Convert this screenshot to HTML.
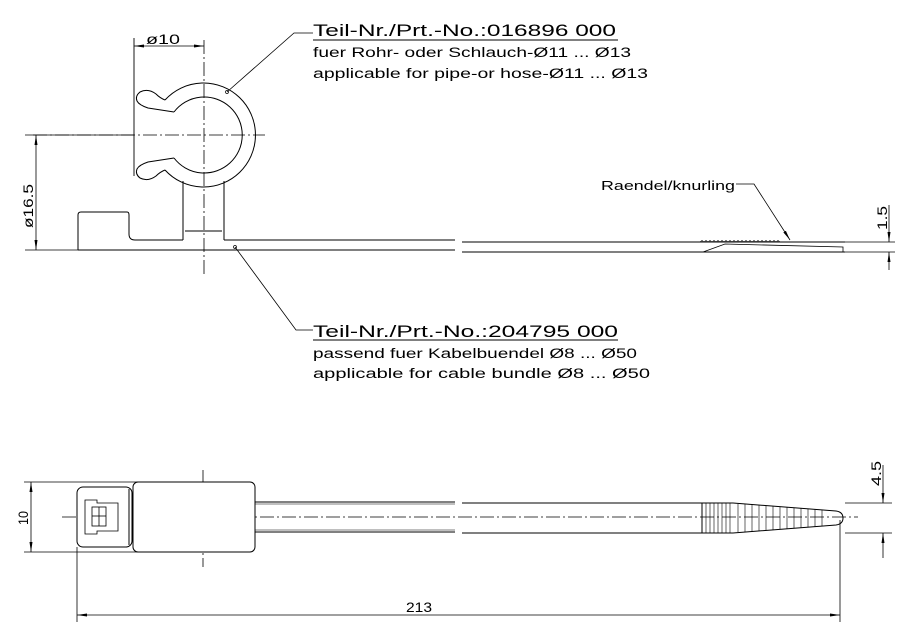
<!DOCTYPE html>
<html><head><meta charset="utf-8"><style>
html,body{margin:0;padding:0;background:#fff;}
svg{display:block;}
text{font-family:"Liberation Sans",sans-serif;fill:#000;}
</style></head><body>
<svg width="916" height="636" viewBox="0 0 916 636" xmlns="http://www.w3.org/2000/svg">
<defs>
<marker id="a" markerWidth="10" markerHeight="6" refX="10" refY="3" orient="auto-start-reverse" markerUnits="userSpaceOnUse"><path d="M0,1.5 L10,3 L0,4.5 Z" fill="#000"/></marker>
</defs>
<g stroke="#000" fill="none" stroke-width="1">
<line x1="33" y1="135" x2="265" y2="135" stroke-dasharray="14,3,2,3" stroke-width="0.8"/>
<line x1="204" y1="40" x2="204" y2="275" stroke-dasharray="14,3,2,3" stroke-width="0.8"/>
<line x1="134" y1="38" x2="134" y2="176" stroke-width="0.9"/>
<line x1="25" y1="135" x2="134" y2="135" stroke-width="0.8"/>
<line x1="25" y1="250" x2="78" y2="250" stroke-width="0.8"/>
<line x1="134" y1="46" x2="204" y2="46" marker-start="url(#a)" marker-end="url(#a)" stroke-width="0.8"/>
<line x1="36" y1="135" x2="36" y2="250" marker-start="url(#a)" marker-end="url(#a)" stroke-width="0.8"/>
<!-- clip ring -->
<path d="M165,100 A52,52 0 1 1 165,170"/>
<path d="M174,112 A38,38 0 1 1 174,158"/>
<path d="M165,100 Q160,98 156,94 Q148,88 140,92 Q135,96 137,101 Q139,105 148,108 L174,112"/>
<path d="M165,170 Q160,172 156,176 Q148,182 140,178 Q135,174 137,169 Q139,165 148,162 L174,158"/>
<!-- stem -->
<line x1="183" y1="181" x2="183" y2="240"/>
<line x1="224" y1="181" x2="224" y2="240"/>
<line x1="185" y1="231" x2="222" y2="231"/>
<path d="M78,250 L78,215 Q78,212 81,212 L127,212 Q129,212 129,215 L129,234 Q129,240 135,240 L183,240"/>
<line x1="224" y1="240" x2="455" y2="240"/>
<line x1="78" y1="250" x2="455" y2="250"/>
<line x1="462" y1="242" x2="845" y2="242"/>
<line x1="462" y1="252" x2="845" y2="252"/>
<path d="M703,252 L725,244 L843,247 L843,252" stroke-width="0.8"/>
<path d="M700,242 l2,-1.5 l2,1.5 l2,-1.5 l2,1.5 l2,-1.5 l2,1.5 l2,-1.5 l2,1.5 l2,-1.5 l2,1.5 l2,-1.5 l2,1.5 l2,-1.5 l2,1.5 l2,-1.5 l2,1.5 l2,-1.5 l2,1.5 l2,-1.5 l2,1.5 l2,-1.5 l2,1.5 l2,-1.5 l2,1.5 l2,-1.5 l2,1.5 l2,-1.5 l2,1.5 l2,-1.5 l2,1.5 l2,-1.5 l2,1.5 l2,-1.5 l2,1.5 l2,-1.5 l2,1.5 l2,-1.5 l2,1.5 l2,-1.5 l2,1.5" stroke-width="0.7"/>
<line x1="845" y1="242" x2="895" y2="242" stroke-width="0.8"/>
<line x1="845" y1="252" x2="895" y2="252" stroke-width="0.8"/>
<line x1="889" y1="205" x2="889" y2="242" marker-end="url(#a)" stroke-width="0.8"/>
<line x1="889" y1="270" x2="889" y2="252" marker-end="url(#a)" stroke-width="0.8"/>
<path d="M227,92 L294,33 L313,33" stroke-width="0.8"/>
<circle cx="227" cy="92" r="1.5" stroke-width="0.7"/>
<path d="M235,247 L296,330 L313,330" stroke-width="0.8"/>
<circle cx="235" cy="247" r="1.5" stroke-width="0.7"/>
<path d="M736,184 L754,184 L790,240" stroke-width="0.8" marker-end="url(#a)"/>
<line x1="313" y1="40" x2="618" y2="40"/>
<line x1="313" y1="340" x2="618" y2="340"/>

<line x1="62" y1="517" x2="858" y2="517" stroke-dasharray="14,3,2,3" stroke-width="0.8"/>
<line x1="203" y1="470" x2="203" y2="567" stroke-dasharray="14,3,2,3" stroke-width="0.8"/>
<line x1="24" y1="482" x2="140" y2="482" stroke-width="0.8"/>
<line x1="24" y1="552" x2="140" y2="552" stroke-width="0.8"/>
<line x1="31" y1="482" x2="31" y2="552" marker-start="url(#a)" marker-end="url(#a)" stroke-width="0.8"/>
<rect x="77" y="487" width="55" height="60" rx="6" fill="#fff"/>
<line x1="129" y1="489" x2="129" y2="545"/>
<rect x="133" y="482" width="122" height="70" rx="5" fill="#fff"/>
<path d="M85,500 L97,500 L97,503 L118,503 L118,531 L97,531 L97,534 L85,534 Z" stroke-width="0.8"/>
<rect x="92" y="507" width="14" height="19" stroke-width="0.8"/>
<line x1="99" y1="507" x2="99" y2="526" stroke-width="0.8"/>
<line x1="92" y1="516" x2="106" y2="516" stroke-width="0.8"/>
<line x1="255" y1="502" x2="455" y2="502"/>
<line x1="255" y1="532" x2="455" y2="532"/>
<line x1="255" y1="504" x2="455" y2="504" stroke-width="0.6"/>
<line x1="255" y1="530" x2="455" y2="530" stroke-width="0.6"/>
<line x1="462" y1="503" x2="733" y2="503"/>
<line x1="462" y1="533" x2="733" y2="533"/>
<line x1="702" y1="503" x2="702" y2="533"/>
<path d="M733,503 L836,511 Q843,512 843,518 Q843,524 836,525 L733,533"/>
<g stroke-width="0.6">
<line x1="706" y1="503" x2="706" y2="533"/><line x1="710" y1="503" x2="710" y2="533"/><line x1="714" y1="503" x2="714" y2="533"/><line x1="718" y1="503" x2="718" y2="533"/><line x1="722" y1="503" x2="722" y2="533"/><line x1="726" y1="503" x2="726" y2="533"/><line x1="730" y1="503" x2="730" y2="533"/>
<line x1="738" y1="504" x2="738" y2="532"/><line x1="745" y1="504" x2="745" y2="532"/><line x1="752" y1="505" x2="752" y2="531"/><line x1="759" y1="505" x2="759" y2="531"/><line x1="766" y1="506" x2="766" y2="530"/><line x1="773" y1="506" x2="773" y2="530"/><line x1="780" y1="507" x2="780" y2="529"/><line x1="787" y1="507" x2="787" y2="529"/><line x1="794" y1="508" x2="794" y2="528"/><line x1="801" y1="508" x2="801" y2="528"/><line x1="808" y1="509" x2="808" y2="527"/><line x1="815" y1="509" x2="815" y2="527"/><line x1="822" y1="510" x2="822" y2="526"/>
</g>
<line x1="845" y1="503" x2="892" y2="503" stroke-width="0.8"/>
<line x1="845" y1="533" x2="892" y2="533" stroke-width="0.8"/>
<line x1="883" y1="465" x2="883" y2="503" marker-end="url(#a)" stroke-width="0.8"/>
<line x1="883" y1="558" x2="883" y2="533" marker-end="url(#a)" stroke-width="0.8"/>
<line x1="77" y1="547" x2="77" y2="622" stroke-width="0.8"/>
<line x1="840" y1="520" x2="840" y2="622" stroke-width="0.8"/>
<line x1="77" y1="615" x2="840" y2="615" marker-start="url(#a)" marker-end="url(#a)" stroke-width="0.8"/>
</g>
<g>
<text x="146" y="44" font-size="14" textLength="34" lengthAdjust="spacingAndGlyphs">ø10</text>
<text transform="translate(33,228) rotate(-90)" font-size="14" textLength="44" lengthAdjust="spacingAndGlyphs">ø16.5</text>
<text x="313" y="36" font-size="17" textLength="303" lengthAdjust="spacingAndGlyphs">Teil-Nr./Prt.-No.:016896 000</text>
<text x="313" y="57" font-size="13.5" textLength="318" lengthAdjust="spacingAndGlyphs">fuer Rohr- oder Schlauch-Ø11 ... Ø13</text>
<text x="313" y="78" font-size="13.5" textLength="335" lengthAdjust="spacingAndGlyphs">applicable for pipe-or hose-Ø11 ... Ø13</text>
<text x="601" y="190" font-size="13" textLength="134" lengthAdjust="spacingAndGlyphs">Raendel/knurling</text>
<text transform="translate(887,230) rotate(-90)" font-size="14" textLength="24" lengthAdjust="spacingAndGlyphs">1.5</text>
<text x="313" y="337" font-size="17" textLength="305" lengthAdjust="spacingAndGlyphs">Teil-Nr./Prt.-No.:204795 000</text>
<text x="313" y="358" font-size="13.5" textLength="324" lengthAdjust="spacingAndGlyphs">passend fuer Kabelbuendel Ø8 ... Ø50</text>
<text x="313" y="378" font-size="13.5" textLength="337" lengthAdjust="spacingAndGlyphs">applicable for cable bundle Ø8 ... Ø50</text>
<text transform="translate(28,525) rotate(-90)" font-size="14" textLength="14" lengthAdjust="spacingAndGlyphs">10</text>
<text transform="translate(881,486) rotate(-90)" font-size="14" textLength="25" lengthAdjust="spacingAndGlyphs">4.5</text>
<text x="406" y="612" font-size="14" textLength="26" lengthAdjust="spacingAndGlyphs">213</text>
</g>
</svg>
</body></html>
